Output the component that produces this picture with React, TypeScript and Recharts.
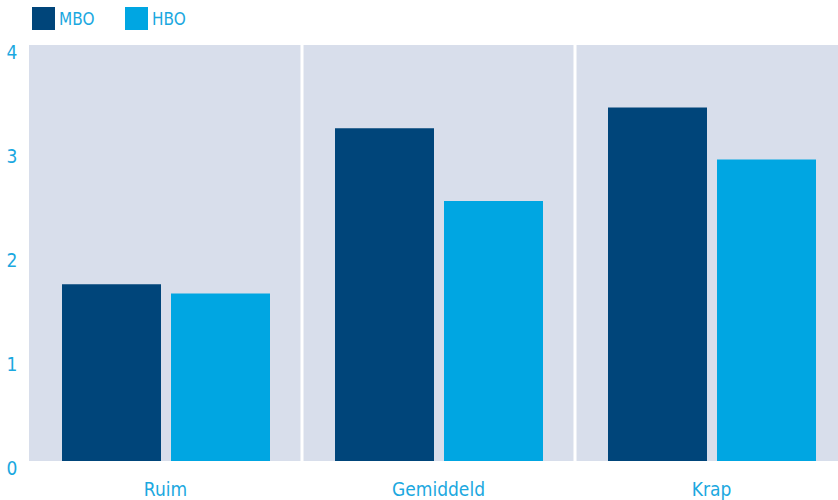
import React from 'react';
import { BarChart, Bar, XAxis, YAxis, CartesianGrid, ReferenceLine, Legend } from 'recharts';

const categories = ['Ruim', 'Gemiddeld', 'Krap'];
const series = ['MBO', 'HBO'];
const mbo = [1.7, 3.2, 3.4];
const hbo = [1.61, 2.5, 2.9];
const yTicks = [0, 1, 2, 3, 4];
const separators = [1, 2];

const data = categories.map((c, i) => ({ name: c, idx: i + 0.5, MBO: mbo[i], HBO: hbo[i] }));

const FONT = '"Liberation Sans Narrow", "DejaVu Sans Condensed", "Roboto Condensed", sans-serif';
const TEXT = '#1BA8E0';
const C_MBO = '#00457A';
const C_HBO = '#00A6E2';
const BG = '#D8DEEB';

const YTick = (props: any) => {
  const { x, y, payload } = props;
  return (
    <text x={x - 17} y={y + 14} textAnchor="middle" fill={TEXT} fontSize={19} fontFamily={FONT} fontStretch="condensed">
      {payload.value}
    </text>
  );
};

const XTick = (props: any) => {
  const { x, y, payload } = props;
  return (
    <text x={x} y={y + 35} textAnchor="middle" fill={TEXT} fontSize={19} fontFamily={FONT} fontStretch="condensed">
      {payload.value}
    </text>
  );
};

const LegendContent = (props: any) => {
  const payload = [...(props.payload || [])].sort(
    (a: any, b: any) => series.indexOf(a.value) - series.indexOf(b.value)
  );
  return (
    <div style={{ display: 'flex', alignItems: 'center' }}>
      {payload.map((p: any, i: number) => (
        <div key={i} style={{ display: 'flex', alignItems: 'center', width: i === 0 ? 93 : undefined }}>
          <div style={{ width: 23, height: 23, background: p.color, marginRight: 4 }} />
          <span style={{ color: TEXT, fontSize: 17, fontFamily: FONT, fontStretch: 'condensed' }}>{p.value}</span>
        </div>
      ))}
    </div>
  );
};

export default function App() {
  return (
    <div style={{ position: 'absolute', left: 0, top: 0, width: 838, height: 500, overflow: 'hidden', background: '#fff' }}>
      <BarChart width={848} height={500} data={data} margin={{ top: 45, right: 0, left: 0, bottom: 0 }} barCategoryGap={32} barGap={10}>
        <CartesianGrid horizontal={false} vertical={false} fill={BG} fillOpacity={1} />
        <XAxis dataKey="name" height={39} axisLine={false} tickLine={false} tickSize={0} tickMargin={0} tick={<XTick />} interval={0} />
        <XAxis xAxisId="sep" dataKey="idx" type="number" domain={[0, 3]} allowDataOverflow hide />
        <YAxis width={29} domain={[0, 4]} ticks={yTicks} axisLine={false} tickLine={false} tickSize={0} tickMargin={0} tick={<YTick />} />
        {separators.map((s) => (
          <ReferenceLine key={s} xAxisId="sep" x={s} stroke="#ffffff" strokeWidth={3} />
        ))}
        <Legend verticalAlign="middle" align="center" content={<LegendContent />} wrapperStyle={{ top: 7, left: 32, width: 300, height: 23 }} />
        <Bar dataKey="MBO" fill={C_MBO} barSize={99} isAnimationActive={false} />
        <Bar dataKey="HBO" fill={C_HBO} barSize={99} isAnimationActive={false} />
      </BarChart>
    </div>
  );
}
